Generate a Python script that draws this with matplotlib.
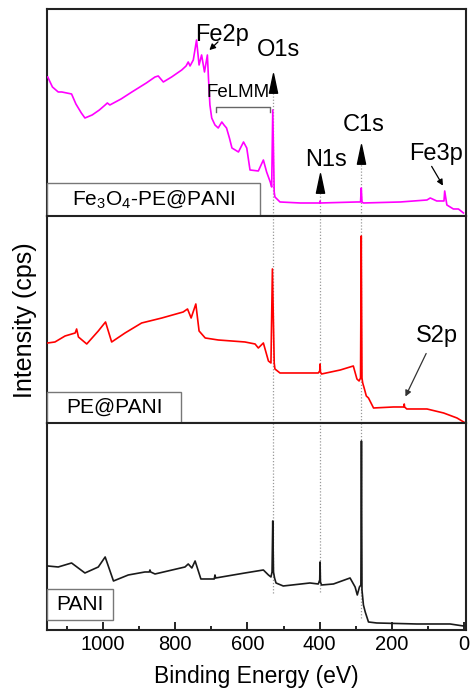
import matplotlib
matplotlib.use("Agg")
import matplotlib.pyplot as plt
from matplotlib.patches import Rectangle
from matplotlib.path import Path
from matplotlib.ticker import MultipleLocator

plt.rcParams['font.family'] = ['Liberation Sans', 'DejaVu Sans']
plt.rcParams['mathtext.fontset'] = 'custom'
plt.rcParams['mathtext.rm'] = 'Liberation Sans'
plt.rcParams['mathtext.it'] = 'Liberation Sans:italic'

# XPS survey spectra, binding energy (eV) vs intensity (a.u., offset per panel)
fe_energy = [1153, 1140, 1124, 1114, 1087, 1075, 1060, 1050, 1030, 1010, 994, 988, 981, 950,
             920, 880, 856, 847, 833, 810, 782, 770, 764, 759, 750, 741, 734, 727, 719, 711,
             708, 704, 699, 690, 681, 671, 665, 658, 650, 643, 625, 611, 602, 593, 570, 556,
             547, 537, 533, 530, 526, 524, 510, 454, 400, 399, 398, 297, 287, 285, 283, 279,
             177, 103, 94, 76, 56, 54, 48, 30, 16, 2]
fe_counts = [139, 129, 124, 124, 122, 112, 103, 98, 101, 106, 111, 113, 111, 117,
             124, 133, 139, 140, 134, 139, 146, 150, 154, 150, 156, 176, 151, 161, 144, 161,
             138, 111, 98, 91, 88, 94, 91, 88, 78, 68, 64, 74, 68, 46, 45, 56,
             44, 34, 29, 106, 24, 19, 14, 13, 13, 15, 13, 14, 14, 28, 14, 13,
             14, 16, 18, 15, 15, 25, 11, 7, 7, 3]

pe_energy = [1153, 1133, 1105, 1077, 1073, 1068, 1045, 1013, 993, 976, 939, 893, 837, 778,
             766, 756, 743, 734, 717, 681, 607, 579, 570, 556, 542, 535, 531, 526, 524,
             510, 454, 404, 400, 399, 398, 395, 343, 307, 297, 291, 287, 285, 283, 281, 277,
             271, 265, 251, 196, 167, 166, 165, 159, 103, 57, 20, -3]
pe_counts = [80, 81, 87, 90, 94, 86, 79, 92, 101, 81, 90, 100, 105, 111,
             114, 105, 119, 92, 85, 83, 81, 79, 75, 80, 62, 60, 154, 60, 54,
             50, 50, 50, 52, 59, 51, 49, 53, 57, 44, 42, 45, 187, 45, 40, 35,
             27, 25, 15, 16, 16, 19, 16, 14, 14, 10, 5, 0]

pani_energy = [1153, 1124, 1087, 1050, 1013, 994, 971, 930, 884, 872, 870, 868, 856, 773,
               764, 754, 745, 729, 708, 692, 690, 688, 607, 556, 542, 535, 532, 530, 528,
               525, 521, 501, 427, 404, 400, 399, 398, 395, 362, 316, 302, 296, 290, 286,
               284.5, 283, 279, 274, 265, 242, 131, 39, 2]
pani_counts = [64, 63, 67, 57, 63, 73, 49, 55, 58, 58, 60, 58, 56, 63,
               66, 62, 69, 51, 51, 51, 55, 52, 57, 60, 55, 53, 58, 109, 58,
               52, 47, 44, 47, 46, 50, 68, 48, 45, 46, 52, 43, 35, 43, 45,
               189, 40, 25, 18, 8, 7, 6, 6, 4]

sample_names = [r'Fe$_3$O$_4$-PE@PANI', 'PE@PANI', 'PANI']
line_colors = ['#ff00ff', '#ff0000', '#1a1a1a']
peak_pos = {'O1s': 530, 'N1s': 398, 'C1s': 284.5}

panel_top = 207.0

fig = plt.figure(figsize=(4.71, 6.91), dpi=100)
axes = fig.subplots(3, 1, sharex=True, gridspec_kw=dict(hspace=0))
fig.subplots_adjust(left=0.0998, right=0.9894, bottom=0.0883, top=0.987)

spectra = [(fe_energy, fe_counts), (pe_energy, pe_counts), (pani_energy, pani_counts)]
box_widths = [0.508, 0.32, 0.157]
box_bottoms = [0.0, 0.0, 0.048]
box_heights = [0.16, 0.15, 0.149]

for i, ax in enumerate(axes):
    e, c = spectra[i]
    ax.plot(e, c, color=line_colors[i], lw=1.2, zorder=3)
    ax.set_xlim(1155, -5)
    ax.set_ylim(0, panel_top)
    ax.set_yticks([])
    for sp in ax.spines.values():
        sp.set_linewidth(1.5)
        sp.set_color('#222222')
    ax.add_patch(Rectangle((0, box_bottoms[i]), box_widths[i], box_heights[i],
                           transform=ax.transAxes, fill=True, facecolor='white',
                           edgecolor='#777777', lw=1.0, zorder=4, clip_on=False))
    ax.text(box_widths[i] / 2, box_bottoms[i] + box_heights[i] / 2, sample_names[i],
            transform=ax.transAxes, ha='center', va='center', fontsize=15, zorder=5)
    if i < 2:
        ax.tick_params(axis='x', bottom=False, labelbottom=False)

# dotted guide lines through the three panels
guide_kw = dict(color='#999999', ls=(0, (1, 1.5)), lw=0.9, zorder=1)
top_starts = {'O1s': 124, 'N1s': 23, 'C1s': 52}
bottom_ends = {'O1s': 37, 'N1s': 38, 'C1s': 12}
for name, pos in peak_pos.items():
    axes[0].axvline(pos, ymin=0, ymax=top_starts[name] / panel_top, **guide_kw)
    axes[1].axvline(pos, ymin=0, ymax=1, **guide_kw)
    axes[2].axvline(pos, ymin=bottom_ends[name] / panel_top, ymax=1, **guide_kw)

# filled triangle markers above the peaks
tri = Path([(0, 1), (-0.42, -1), (0.42, -1), (0, 1)], [1, 2, 2, 79])
tri_y = {'O1s': 133, 'N1s': 33, 'C1s': 62}
for name, pos in peak_pos.items():
    axes[0].plot([pos], [tri_y[name]], marker=tri, ms=14, color='black', zorder=5)

ann_size = 17
top = axes[0]
top.text(670, 181, 'Fe2p', fontsize=ann_size, ha='center', va='center')
top.annotate('', xy=(711, 164), xytext=(676, 176),
             arrowprops=dict(arrowstyle='-|>,head_length=0.35,head_width=0.18',
                             color='black', lw=0.9))
top.text(515, 166, 'O1s', fontsize=ann_size, ha='center', va='center')
top.text(382, 56, 'N1s', fontsize=ann_size, ha='center', va='center')
top.text(277, 91, 'C1s', fontsize=ann_size, ha='center', va='center')
top.text(78, 62, 'Fe3p', fontsize=ann_size, ha='center', va='center')
top.annotate('', xy=(55, 28), xytext=(94, 52),
             arrowprops=dict(arrowstyle='-|>,head_length=0.35,head_width=0.18',
                             color='black', lw=0.9))
top.text(626, 123, 'FeLMM', fontsize=13.5, ha='center', va='center', zorder=6)
top.plot([687, 687, 537, 537], [104, 109, 109, 104], color='#666666', lw=1.0, zorder=2)

mid = axes[1]
mid.text(75, 87, 'S2p', fontsize=ann_size, ha='center', va='center')
mid.annotate('', xy=(166, 24), xytext=(102, 72),
             arrowprops=dict(arrowstyle='-|>,head_length=0.35,head_width=0.18',
                             color='#333333', lw=0.9))

bot = axes[2]
bot.xaxis.set_major_locator(MultipleLocator(200))
bot.xaxis.set_minor_locator(MultipleLocator(100))
bot.tick_params(axis='x', which='both', direction='in', top=False, width=1.2, labelsize=14.5)
bot.tick_params(axis='x', which='major', length=6)
bot.tick_params(axis='x', which='minor', length=3)
bot.set_xlabel('Binding Energy (eV)', fontsize=16.5, labelpad=8)

fig.text(0.053, 0.537, 'Intensity (cps)', rotation=90, fontsize=18, ha='center', va='center')

fig.savefig('out.png', dpi=100)
